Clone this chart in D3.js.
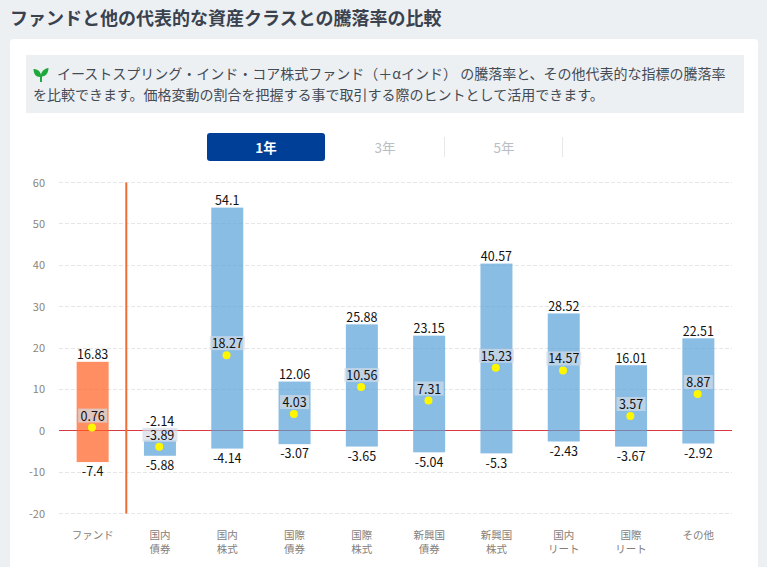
<!DOCTYPE html>
<html lang="ja">
<head>
<meta charset="utf-8">
<script src="https://cdn.jsdelivr.net/npm/d3@7"></script>
<style>
  html, body { margin: 0; padding: 0; background: #edf0f3; overflow: hidden; }
  svg { display: block; font-family: "Noto Sans CJK JP", sans-serif; }
</style>
</head>
<body>
<div id="chart"></div>
<script>
// Données
const categories = ["ファンド", "国内\n債券", "国内\n株式", "国際\n債券", "国際\n株式", "新興国\n債券", "新興国\n株式", "国内\nリート", "国際\nリート", "その他"];
const highs = [16.83, -2.14, 54.1, 12.06, 25.88, 23.15, 40.57, 28.52, 16.01, 22.51];
const lows = [-7.4, -5.88, -4.14, -3.07, -3.65, -5.04, -5.3, -2.43, -3.67, -2.92];
const averages = [0.76, -3.89, 18.27, 4.03, 10.56, 7.31, 15.23, 14.57, 3.57, 8.87];
const yTicks = [60, 50, 40, 30, 20, 10, 0, -10, -20];
const tabs = ["1年", "3年", "5年"];
const title = "ファンドと他の代表的な資産クラスとの騰落率の比較";
const introLines = [
  "イーストスプリング・インド・コア株式ファンド（＋αインド） の騰落率と、その他代表的な指標の騰落率",
  "を比較できます。価格変動の割合を把握する事で取引する際のヒントとして活用できます。"
];

const svg = d3.select("#chart").append("svg").attr("width", 767).attr("height", 567);

// En-tête
svg.append("text").attr("x", 10).attr("y", 25).attr("font-size", 18).attr("font-weight", 700)
  .attr("fill", "#39424e").text(title);
svg.append("rect").attr("x", 10).attr("y", 39).attr("width", 748).attr("height", 560).attr("rx", 4).attr("fill", "#fff");
svg.append("rect").attr("x", 26).attr("y", 55).attr("width", 718).attr("height", 58).attr("fill", "#edf0f3");

// Pousse verte
const leaf = svg.append("g").attr("fill", "#1fa83c");
leaf.append("path").attr("d", "M40 82 L40 77 C36 77 33.5 74 33.5 69 C37 69 40.5 71 41 75 C41.5 71 44.5 68.5 48.5 68 C48.5 73 46 76 42 76.5 L42 82 Z");

svg.selectAll(".intro").data(introLines).join("text").attr("class", "intro")
  .attr("x", (d, i) => i ? 33 : 57).attr("y", (d, i) => i ? 100 : 79)
  .attr("font-size", 14).attr("fill", "#434b55").text(d => d);

// Onglets
const tabX = d3.scaleOrdinal().domain(tabs).range([266, 385, 504]);
svg.append("rect").attr("x", 207).attr("y", 133).attr("width", 118).attr("height", 28).attr("rx", 3).attr("fill", "#003f98");
svg.selectAll(".tab").data(tabs).join("text").attr("class", "tab")
  .attr("x", d => tabX(d)).attr("y", 152.5).attr("text-anchor", "middle").attr("font-size", 13.5)
  .attr("font-weight", (d, i) => i ? 400 : 700).attr("fill", (d, i) => i ? "#b9bec4" : "#fff").text(d => d);
svg.selectAll(".tabsep").data([444.5, 562.5]).join("line").attr("class", "tabsep")
  .attr("x1", d => d).attr("x2", d => d).attr("y1", 137).attr("y2", 157).attr("stroke", "#e6e8eb");

// Échelles
const x = d3.scaleBand().domain(categories).range([59, 732]);
const y = d3.scaleLinear().domain([-20, 60]).range([513.5, 182.5]);
const barW = 32;
const cx = d => x(d) + x.bandwidth() / 2;
// Trait net d'un pixel
const crisp = v => Math.floor(v) + 0.5;

// Grille et axe vertical
svg.selectAll(".grid").data(yTicks).join("line").attr("class", "grid")
  .attr("x1", 59).attr("x2", 732).attr("y1", d => crisp(y(d))).attr("y2", d => crisp(y(d)))
  .attr("stroke", "#e6e6e6").attr("stroke-dasharray", "4,2");
svg.selectAll(".ytick").data(yTicks).join("text").attr("class", "ytick")
  .attr("x", 45).attr("y", d => y(d) + 4).attr("text-anchor", "end").attr("font-size", 11)
  .attr("fill", "#8c8577").text(d => d);

// Ligne du zéro, sous les barres translucides
svg.append("line").attr("x1", 59).attr("x2", 732).attr("y1", crisp(y(0))).attr("y2", crisp(y(0)))
  .attr("stroke", "#d93a42").attr("stroke-width", 1);

// Barres
svg.selectAll(".bar").data(categories).join("rect").attr("class", "bar")
  .attr("x", d => cx(d) - barW / 2).attr("width", barW)
  .attr("y", (d, i) => y(highs[i]) + 0.7).attr("height", (d, i) => y(lows[i]) - y(highs[i]))
  .attr("fill", (d, i) => i ? "#58a1d8" : "#ff5f20").attr("fill-opacity", 0.7);

// Séparateur
svg.append("line").attr("x1", x(categories[1])).attr("x2", x(categories[1])).attr("y1", y(60)).attr("y2", y(-20))
  .attr("stroke", "#ef6c35").attr("stroke-width", 2);

// Étiquettes de moyenne
const avg = svg.selectAll(".avg").data(categories).join("g").attr("class", "avg");
avg.append("rect").attr("x", (d, i) => cx(d) - (averages[i] >= 10 || averages[i] < 0 ? 17.5 : 14.5))
  .attr("width", (d, i) => averages[i] >= 10 || averages[i] < 0 ? 35 : 29)
  .attr("y", (d, i) => y(averages[i]) - 19).attr("height", 14)
  .attr("fill", "#d4dbe7").attr("fill-opacity", 0.7);
avg.append("text").attr("x", cx).attr("y", (d, i) => y(averages[i]) - 7)
  .attr("text-anchor", "middle").attr("font-size", 12.5).attr("fill", "#111")
  .text((d, i) => averages[i]);
avg.append("circle").attr("cx", d => cx(d) - 0.7).attr("cy", (d, i) => y(averages[i])).attr("r", 4).attr("fill", "#fff700");

// Valeurs hautes et basses : le haut passe au-dessus de l'étiquette de moyenne si elles se touchent
svg.selectAll(".high").data(categories).join("text").attr("class", "high")
  .attr("x", cx).attr("y", (d, i) => Math.min(y(highs[i]) - 2, y(averages[i]) - 21)).attr("text-anchor", "middle")
  .attr("font-size", 12.5).attr("fill", "#111").text((d, i) => highs[i]);
svg.selectAll(".low").data(categories).join("text").attr("class", "low")
  .attr("x", cx).attr("y", (d, i) => y(lows[i]) + 15).attr("text-anchor", "middle")
  .attr("font-size", 12.5).attr("fill", "#111").text((d, i) => lows[i]);

// Catégories
const cat = svg.selectAll(".cat").data(categories).join("text").attr("class", "cat")
  .attr("text-anchor", "middle").attr("font-size", 10.5).attr("fill", "#85807a");
cat.selectAll("tspan").data(d => d.split("\n").map(t => ({ t, d }))).join("tspan")
  .attr("x", e => cx(e.d)).attr("y", (e, i) => 539 + i * 14).text(e => e.t);
</script>
</body>
</html>
